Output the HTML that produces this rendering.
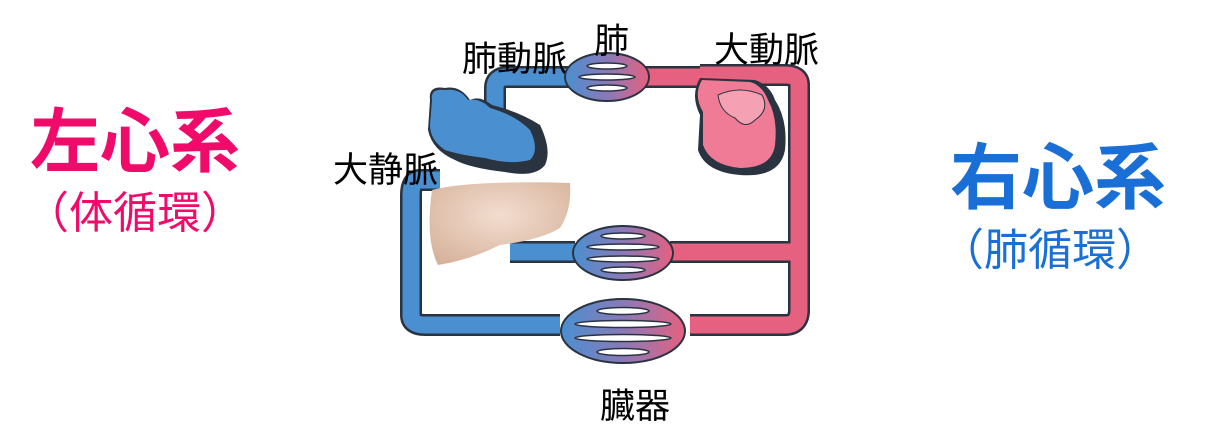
<!DOCTYPE html>
<html><head><meta charset="utf-8"><style>
html,body{margin:0;padding:0;background:#fff;width:1206px;height:434px;overflow:hidden}
svg{display:block}
text{font-family:"Liberation Sans","Noto Sans CJK JP",sans-serif}
</style></head><body>
<svg width="1206" height="434" viewBox="0 0 1206 434" xmlns="http://www.w3.org/2000/svg">
<defs>
<linearGradient id="g1" x1="0" x2="1" y1="0" y2="0"><stop offset="0" stop-color="#4a8fd0"/><stop offset="0.5" stop-color="#8a7ab8"/><stop offset="1" stop-color="#e6607f"/></linearGradient>
<radialGradient id="liv" cx="0.5" cy="0.4" r="0.7"><stop offset="0" stop-color="#f3ddd0"/><stop offset="1" stop-color="#d6b29a"/></radialGradient>
</defs>
<g fill="none" stroke="#2a3340" stroke-width="22" stroke-linejoin="round">
<path d="M440 180 L420 180 Q411 180 411 195 L411 315 Q411 325 425 325 L560 325"/>
<path d="M690 325 L785 325 Q799 325 799 310 L799 85 Q799 75 785 75 L700 75"/>
<path d="M510 252 L575 252"/>
<path d="M670 252 L799 252"/>
<path d="M495 110 L495 88 Q495 77 508 77 L570 77"/>
<path d="M645 77 L700 77"/>
</g>
<g fill="none" stroke-width="17" stroke-linejoin="round">
<path d="M440 180 L420 180 Q411 180 411 195 L411 315 Q411 325 425 325 L560 325" stroke="#4a8fd0"/>
<path d="M690 325 L785 325 Q799 325 799 310 L799 85 Q799 75 785 75 L700 75" stroke="#e6607f"/>
<path d="M510 252 L575 252" stroke="#4a8fd0"/>
<path d="M670 252 L799 252" stroke="#e6607f"/>
<path d="M495 110 L495 88 Q495 77 508 77 L570 77" stroke="#4a8fd0"/>
<path d="M645 77 L700 77" stroke="#e6607f"/>
</g>
<g stroke="#2a3340" stroke-width="2" fill="url(#g1)">
<ellipse cx="607" cy="77" rx="42" ry="24"/>
<ellipse cx="623" cy="253" rx="50" ry="27"/>
<ellipse cx="623" cy="331" rx="62" ry="32"/>
</g>
<g stroke="#2a3340" stroke-width="1.5" fill="#fff">
<ellipse cx="607" cy="66" rx="20" ry="3"/><ellipse cx="607" cy="77" rx="28" ry="3"/><ellipse cx="607" cy="88" rx="20" ry="3"/>
<ellipse cx="623" cy="236" rx="22" ry="3"/><ellipse cx="623" cy="247" rx="36" ry="3"/><ellipse cx="623" cy="259" rx="36" ry="3"/><ellipse cx="623" cy="270" rx="22" ry="3"/>
<ellipse cx="623" cy="311" rx="26" ry="3.5"/><ellipse cx="623" cy="324" rx="48" ry="3.5"/><ellipse cx="623" cy="338" rx="48" ry="3.5"/><ellipse cx="623" cy="352" rx="26" ry="3.5"/>
</g>
<path d="M430 100 Q428 85 445 88 Q460 85 470 100 Q480 95 492 105 Q520 112 540 125 Q552 150 545 165 Q535 178 505 172 Q470 168 455 160 Q432 150 428 130 Z" fill="#2a3340"/>
<path d="M432 100 Q430 88 445 90 Q460 88 468 100 Q480 98 490 108 Q515 115 530 130 Q540 150 530 160 Q510 165 485 158 Q460 155 445 150 Q430 140 430 125 Z" fill="#4a8fd0"/>
<path d="M700 78 Q690 95 700 115 L698 150 Q705 172 740 175 Q780 178 785 150 Q788 120 775 100 Q770 85 755 80 Z" fill="#2a3340"/>
<path d="M702 80 Q693 95 703 112 L703 145 Q710 165 740 168 Q772 168 775 145 Q778 118 768 100 Q762 85 750 82 Z" fill="#ef7b96"/>
<path d="M718 95 Q740 85 762 95 Q770 110 755 120 Q745 130 735 118 Q720 112 718 95 Z" fill="#f5a0b3" stroke="#2a3340" stroke-width="1"/>
<path d="M432 190 Q470 180 570 183 Q572 210 560 228 Q540 240 500 245 Q470 260 438 265 Q425 240 432 190 Z" fill="url(#liv)"/>
<g font-size="35" fill="#000">
<text x="462" y="71">肺動脈</text>
<text x="594" y="53">肺</text>
<text x="714" y="62">大動脈</text>
<text x="333" y="182">大静脈</text>
<text x="600" y="418">臓器</text>
</g>
<text x="30" y="166" font-size="70" font-weight="bold" fill="#f00a6a">左心系</text>
<text x="25" y="228" font-size="44" fill="#f00a6a">（体循環）</text>
<text x="950" y="203" font-size="72" font-weight="bold" fill="#1a6fd6">右心系</text>
<text x="940" y="265" font-size="44" fill="#1a6fd6">（肺循環）</text>
</svg>
</body></html>
